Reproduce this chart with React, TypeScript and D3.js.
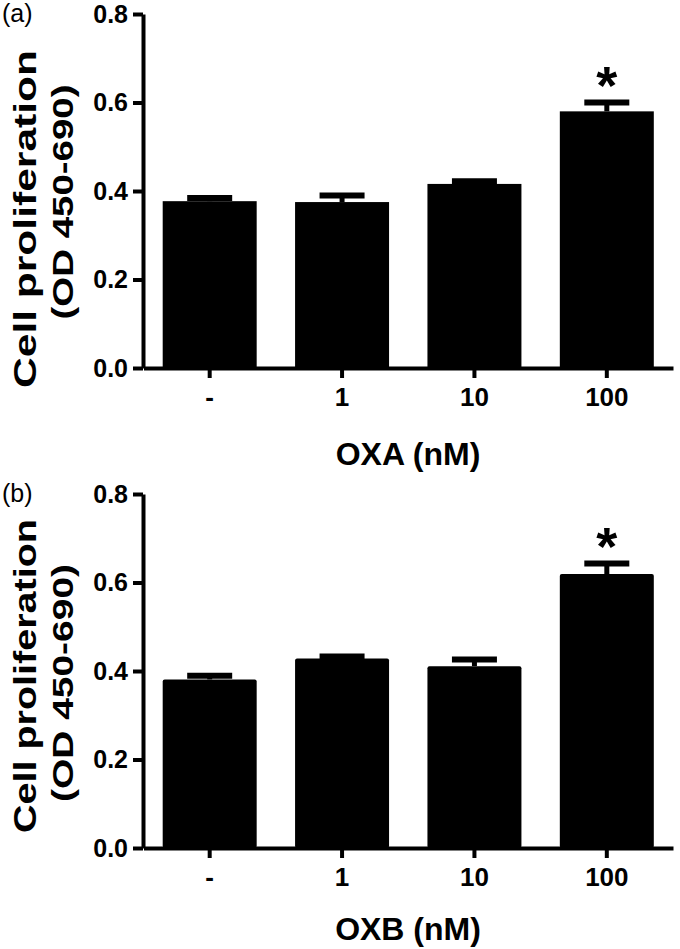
import React, { useEffect, useRef } from "react";
import * as d3 from "d3";

const categories = ["-", "1", "10", "100"];
const oxaMeans = [0.377, 0.375, 0.416, 0.58];
const oxaErrors = [0.007, 0.015, 0.006, 0.02];
const oxaSignificant = [false, false, false, true];
const oxbMeans = [0.381, 0.428, 0.411, 0.619];
const oxbErrors = [0.008, 0.005, 0.015, 0.024];
const oxbSignificant = [false, false, false, true];
const yTicks = [0, 0.2, 0.4, 0.6, 0.8];
const panelLabels = ["(a)", "(b)"];
const xTitles = ["OXA (nM)", "OXB (nM)"];
const yTitle1 = "Cell proliferation";
const yTitle2 = "(OD 450-690)";

const W = 680;
const H = 949;
const FONT = "'Liberation Sans', Arial, Helvetica, sans-serif";

export default function App() {
  const ref = useRef<SVGSVGElement | null>(null);

  useEffect(() => {
    const svg = d3.select(ref.current);
    svg.selectAll("*").remove();

    const panels = [
      {
        means: oxaMeans, errs: oxaErrors, sig: oxaSignificant, off: 0,
        label: panelLabels[0], title: xTitles[0], rx: 0,
        titleY: 465, t1c: 219, t1len: 338, t2c: 202, t2len: 235,
      },
      {
        means: oxbMeans, errs: oxbErrors, sig: oxbSignificant, off: 480,
        label: panelLabels[1], title: xTitles[1], rx: 2,
        titleY: 460, t1c: 196, t1len: 314, t2c: 203, t2len: 238,
      },
    ];

    panels.forEach((p) => {
      const g = svg.append("g").attr("transform", `translate(0,${p.off})`);
      const x = d3
        .scaleBand<string>()
        .domain(categories)
        .range([143.5, 673])
        .paddingInner(0.29)
        .paddingOuter(0.145);
      const y = d3.scaleLinear().domain([0, 0.8]).range([368, 14]);

      // bars
      g.selectAll("rect.bar")
        .data(p.means)
        .enter()
        .append("rect")
        .attr("x", (_, i) => x(categories[i])!)
        .attr("y", (d) => y(d))
        .attr("width", x.bandwidth())
        .attr("height", (d) => y(0) - y(d))
        .attr("rx", p.rx)
        .attr("fill", "#000");

      // error bars
      const capW = 45;
      p.means.forEach((m, i) => {
        const cx = x(categories[i])! + x.bandwidth() / 2;
        const top = y(m + p.errs[i]);
        g.append("line")
          .attr("x1", cx)
          .attr("x2", cx)
          .attr("y1", y(m))
          .attr("y2", top)
          .attr("stroke", "#000")
          .attr("stroke-width", 5);
        g.append("line")
          .attr("x1", cx - capW / 2)
          .attr("x2", cx + capW / 2)
          .attr("y1", top)
          .attr("y2", top)
          .attr("stroke", "#000")
          .attr("stroke-width", 6);
        if (p.sig[i]) {
          const fs = 54;
          g.append("text")
            .attr("x", cx)
            .attr("y", top - 29 + 0.56 * fs)
            .attr("text-anchor", "middle")
            .attr("font-family", FONT)
            .attr("font-weight", "bold")
            .attr("font-size", fs)
            .text("*");
        }
      });

      // y axis
      const yAxis = g
        .append("g")
        .attr("transform", "translate(143,0)")
        .call(
          d3
            .axisLeft(y)
            .tickValues(yTicks)
            .tickFormat(d3.format(".1f"))
            .tickSize(10)
            .tickSizeOuter(0)
            .tickPadding(5)
        );
      yAxis.select(".domain").attr("stroke-width", 4).attr("stroke", "#000");
      yAxis.selectAll(".tick line").attr("stroke-width", 4).attr("stroke", "#000");
      yAxis
        .selectAll(".tick text")
        .attr("font-family", FONT)
        .attr("font-weight", "bold")
        .attr("font-size", 25)
        .attr("fill", "#000");

      // x axis
      const xAxis = g
        .append("g")
        .attr("transform", `translate(0,${y(0)})`)
        .call(d3.axisBottom(x).tickSize(10).tickSizeOuter(0).tickPadding(10));
      xAxis.select(".domain").attr("stroke-width", 4).attr("stroke", "#000");
      xAxis.selectAll(".tick line").attr("stroke-width", 4).attr("stroke", "#000");
      xAxis
        .selectAll(".tick text")
        .attr("font-family", FONT)
        .attr("font-weight", "bold")
        .attr("font-size", 26)
        .attr("fill", "#000");

      // x title
      g.append("text")
        .attr("x", 408)
        .attr("y", p.titleY)
        .attr("text-anchor", "middle")
        .attr("font-family", FONT)
        .attr("font-weight", "bold")
        .attr("font-size", 32)
        .text(p.title);

      // y title
      g.append("text")
        .attr("transform", `translate(36,${p.t1c}) rotate(-90)`)
        .attr("text-anchor", "middle")
        .attr("font-family", FONT)
        .attr("font-weight", "bold")
        .attr("font-size", 31)
        .attr("textLength", p.t1len)
        .attr("lengthAdjust", "spacingAndGlyphs")
        .text(yTitle1);
      g.append("text")
        .attr("transform", `translate(73,${p.t2c}) rotate(-90)`)
        .attr("text-anchor", "middle")
        .attr("font-family", FONT)
        .attr("font-weight", "bold")
        .attr("font-size", 30)
        .attr("textLength", p.t2len)
        .attr("lengthAdjust", "spacingAndGlyphs")
        .text(yTitle2);

      // panel label
      g.append("text")
        .attr("x", 2)
        .attr("y", 22)
        .attr("font-family", FONT)
        .attr("font-size", 25)
        .text(p.label);
    });
  }, []);

  return (
    <svg
      ref={ref}
      width={W}
      height={H}
      style={{ position: "absolute", left: 0, top: 0, background: "#fff" }}
    />
  );
}
